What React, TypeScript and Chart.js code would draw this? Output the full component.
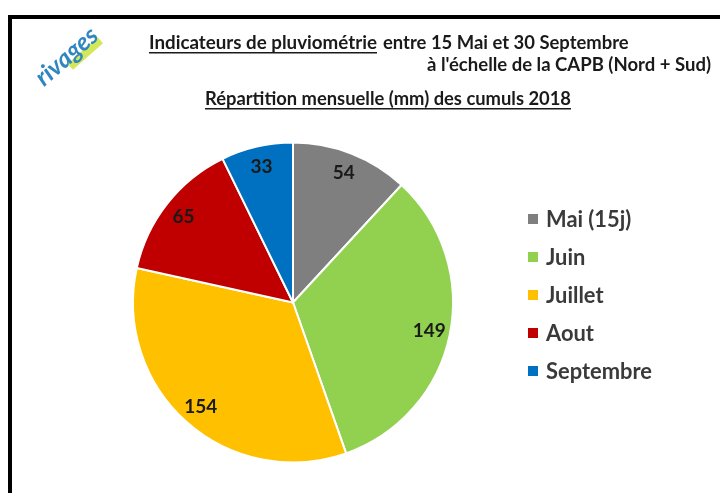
import React, { useEffect, useRef } from "react";
import { Chart, registerables } from "chart.js";

Chart.register(...registerables);

const categories = ["Mai (15j)", "Juin", "Juillet", "Aout", "Septembre"];
const values = [54, 149, 154, 65, 33];
const colors = ["#7f7f7f", "#92d050", "#ffc000", "#c00000", "#0070c0"];
const titleLine1Underlined = "Indicateurs de pluviométrie";
const titleLine1Rest = "entre 15 Mai et 30 Septembre";
const titleLine2 = "à l'échelle de la CAPB (Nord + Sud)";
const titleLine3 = "Répartition mensuelle (mm) des cumuls 2018";

const FAMILY = "Lato, 'Noto Sans', sans-serif";

function fitFont(ctx: CanvasRenderingContext2D, text: string, target: number, weight: string) {
  ctx.font = `${weight} 20px ${FAMILY}`;
  const w = ctx.measureText(text).width;
  const size = (20 * target) / w;
  return `${weight} ${size.toFixed(2)}px ${FAMILY}`;
}

const decorPlugin = {
  id: "decor",
  afterDraw(chart: any) {
    const ctx: CanvasRenderingContext2D = chart.ctx;
    ctx.save();
    // frame
    ctx.fillStyle = "#000";
    ctx.fillRect(8, 15, 712, 4);
    ctx.fillRect(8, 15, 4, 478);

    // logo
    ctx.save();
    ctx.translate(68, 58);
    ctx.rotate(-0.72);
    ctx.fillStyle = "rgba(205,230,70,0.9)";
    ctx.fillRect(-4, 4, 40, 8);
    ctx.font = `italic 700 25px ${FAMILY}`;
    ctx.fillStyle = "#2f86c0";
    ctx.textAlign = "center";
    ctx.textBaseline = "middle";
    ctx.fillText("rivages", 0, -2);
    ctx.restore();

    // titles
    ctx.fillStyle = "#1a1a1a";
    ctx.textBaseline = "alphabetic";
    ctx.textAlign = "left";
    ctx.font = fitFont(ctx, titleLine1Underlined, 228, "700");
    ctx.fillText(titleLine1Underlined, 149, 49);
    ctx.fillRect(149, 52, 228, 1.5);
    ctx.font = fitFont(ctx, titleLine1Rest, 246, "700");
    ctx.fillText(titleLine1Rest, 383, 49);
    ctx.font = fitFont(ctx, titleLine2, 284, "700");
    ctx.fillText(titleLine2, 427, 71);
    ctx.font = fitFont(ctx, titleLine3, 366, "700");
    ctx.fillText(titleLine3, 205, 105);
    ctx.fillRect(205, 108, 366, 1.5);

    // legend
    const legendFont = fitFont(ctx, categories[4], 106, "700");
    categories.forEach((c, i) => {
      const y = 219 + i * 38;
      ctx.fillStyle = colors[i];
      ctx.fillRect(528, y - 5, 10, 10);
      ctx.fillStyle = "#3a3a3a";
      ctx.font = legendFont;
      ctx.textBaseline = "middle";
      ctx.fillText(c, 546, y + 1);
    });

    // data labels
    const meta = chart.getDatasetMeta(0);
    ctx.font = `700 19px ${FAMILY}`;
    ctx.fillStyle = "#1a1a1a";
    ctx.textAlign = "center";
    ctx.textBaseline = "middle";
    meta.data.forEach((arc: any, i: number) => {
      const p = arc.getProps(["x", "y", "startAngle", "endAngle", "outerRadius"], true);
      const mid = (p.startAngle + p.endAngle) / 2;
      const r = p.outerRadius * 0.87;
      ctx.fillText(String(values[i]), p.x + Math.cos(mid) * r, p.y + Math.sin(mid) * r);
    });
    ctx.restore();
  },
};

export default function App() {
  const ref = useRef<HTMLCanvasElement>(null);
  useEffect(() => {
    document.body.style.margin = "0";
    const chart = new Chart(ref.current!, {
      type: "pie",
      data: {
        labels: categories,
        datasets: [
          {
            data: values,
            backgroundColor: colors,
            borderColor: "#ffffff",
            borderWidth: 2,
          },
        ],
      },
      options: {
        responsive: false,
        animation: false,
        layout: { padding: { left: 132, right: 266, top: 140, bottom: 28 } },
        plugins: {
          legend: { display: false },
          tooltip: { enabled: false },
        },
      },
      plugins: [decorPlugin],
    });
    return () => chart.destroy();
  }, []);
  return (
    <div style={{ width: 720, height: 493, background: "#fff" }}>
      <canvas ref={ref} width={720} height={493} />
    </div>
  );
}
